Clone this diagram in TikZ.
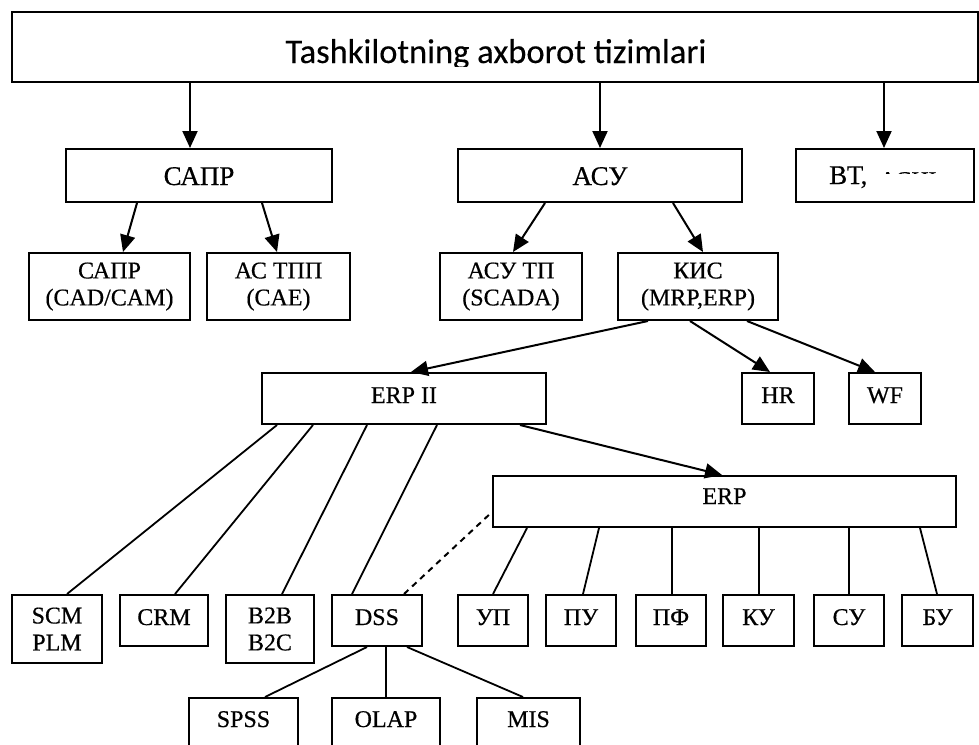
\documentclass[tikz,border=0pt]{standalone}
\usepackage{fontspec}
\setmainfont{Liberation Serif}[UprightFeatures={FakeBold=0.5}]
\newfontfamily\carlito{Carlito}[UprightFeatures={FakeBold=0.3}]
\usetikzlibrary{arrows.meta}
\begin{document}
\begin{tikzpicture}[x=1pt,y=-1pt,
  box/.style={draw, line width=2pt, inner sep=0pt, align=center, font=\fontsize{24}{27}\selectfont},
  big/.style={font=\fontsize{27}{30}\selectfont},
  th/.style={text height=#1, text depth=0pt},
  arr/.style={line width=2pt, -{Triangle[length=17pt,width=15pt]}},
  ln/.style={line width=1.8pt},
  dsh/.style={line width=2pt, dash pattern=on 6pt off 5pt}]
\useasboundingbox (0,0) rectangle (979,744);
\clip (0,0) rectangle (979,744);
% top
\node[box, minimum width=966pt, minimum height=70pt] (top) at (495,47) {};
\begin{scope}
  \clip (14,14) rectangle (976,66);
  \node[anchor=base, inner sep=0pt, font=\carlito\fontsize{34.5}{38}\selectfont] (toptext) at (496,63) {Tashkilotning axborot tizimlari};
\end{scope}
% row 2
\node[box, big, th=19pt, minimum width=266pt, minimum height=53pt] (sapr) at (199,175.5) {САПР};
\node[box, big, th=19pt, minimum width=284pt, minimum height=53pt] (asu) at (600,175.5) {АСУ};
\node[box, minimum width=178pt, minimum height=53pt] (vt) at (885,175.5) {};
\node[anchor=base west, inner sep=0pt, big] (vtt) at (829,184) {ВТ,};
\begin{scope}
  \clip (878,167.5) rectangle (936,173.5);
  \node[anchor=base west, inner sep=0pt, font=\fontsize{24}{27}\selectfont] (vtcut) at (879,188) {АСНИ};
\end{scope}
% row 3
\node[box, minimum width=161pt, minimum height=67pt] (cadcam) at (109.5,286.5) {САПР\\(CAD/CAM)};
\node[box, minimum width=143pt, minimum height=67pt] (astpp) at (278.5,286.5) {АС ТПП\\(CAE)};
\node[box, minimum width=142pt, minimum height=67pt] (asutp) at (511,286.5) {АСУ ТП\\(SCADA)};
\node[box, minimum width=160pt, minimum height=67pt] (kis) at (698,286.5) {КИС\\(MRP,ERP)};
% row 4
\node[box, th=9pt, minimum width=284pt, minimum height=51pt] (erp2) at (404,398.5) {ERP II};
\node[box, th=9pt, minimum width=72pt, minimum height=51pt] (hr) at (778,398.5) {HR};
\node[box, th=9pt, minimum width=72pt, minimum height=51pt] (wf) at (885,398.5) {WF};
% ERP
\node[box, th=5pt, minimum width=463pt, minimum height=51pt] (erp) at (724.5,501.5) {ERP};
% bottom row
\node[box, minimum width=90pt, minimum height=68pt] (scm) at (57,629) {SCM\\PLM};
\node[box, th=9pt, minimum width=88pt, minimum height=51pt] (crm) at (164,620.5) {CRM};
\node[box, minimum width=88pt, minimum height=68pt] (b2b) at (270,629) {B2B\\B2C};
\node[box, th=9pt, minimum width=90pt, minimum height=51pt] (dss) at (377,620.5) {DSS};
\node[box, th=9pt, minimum width=70pt, minimum height=51pt] (up) at (493,620.5) {УП};
\node[box, th=9pt, minimum width=70pt, minimum height=51pt] (pu) at (581,620.5) {ПУ};
\node[box, th=9pt, minimum width=70pt, minimum height=51pt] (pf) at (671,620.5) {ПФ};
\node[box, th=9pt, minimum width=71pt, minimum height=51pt] (ku) at (758.5,620.5) {КУ};
\node[box, th=9pt, minimum width=70pt, minimum height=51pt] (su) at (849,620.5) {СУ};
\node[box, th=9pt, minimum width=71pt, minimum height=51pt] (bu) at (937.5,620.5) {БУ};
% last row
\node[box, th=7pt, minimum width=109pt, minimum height=51pt] (spss) at (243.5,723.5) {SPSS};
\node[box, th=7pt, minimum width=108pt, minimum height=51pt] (olap) at (386,723.5) {OLAP};
\node[box, th=7pt, minimum width=103pt, minimum height=51pt] (mis) at (528.5,723.5) {MIS};
% arrows
\draw[arr] ([xshift=-305pt]top.south) -- ([xshift=-9pt]sapr.north);
\draw[arr] ([xshift=105pt]top.south) -- (asu.north);
\draw[arr] ([xshift=389pt]top.south) -- ([xshift=-1pt]vt.north);
\draw[arr] ([xshift=-62pt]sapr.south) -- ([xshift=13.5pt]cadcam.north);
\draw[arr] ([xshift=63pt]sapr.south) -- ([xshift=-1.5pt]astpp.north);
\draw[arr] ([xshift=-55pt]asu.south) -- ([xshift=2pt]asutp.north);
\draw[arr] ([xshift=73pt]asu.south) -- ([xshift=5pt]kis.north);
\draw[arr] ([xshift=-50pt]kis.south) -- ([xshift=7pt]erp2.north);
\draw[arr] ([xshift=-8pt]kis.south) -- ([xshift=-8pt]hr.north);
\draw[arr] ([xshift=49pt]kis.south) -- ([xshift=-10pt]wf.north);
\draw[arr] ([xshift=116pt]erp2.south) -- ([xshift=-2.5pt]erp.north);
% lines
\draw[ln] ([xshift=-127pt]erp2.south) -- ([xshift=10pt]scm.north);
\draw[ln] ([xshift=-91pt]erp2.south) -- ([xshift=11pt]crm.north);
\draw[ln] ([xshift=-37pt]erp2.south) -- ([xshift=12pt]b2b.north);
\draw[ln] ([xshift=33pt]erp2.south) -- ([xshift=-25pt]dss.north);
\draw[dsh] ([xshift=27pt]dss.north) -- ([yshift=-10.5pt]erp.west);
\draw[ln] ([xshift=-197.5pt]erp.south) -- (up.north);
\draw[ln] ([xshift=-125.5pt]erp.south) -- ([xshift=2pt]pu.north);
\draw[ln] ([xshift=-52.5pt]erp.south) -- ([xshift=1pt]pf.north);
\draw[ln] ([xshift=34.5pt]erp.south) -- ([xshift=0.5pt]ku.north);
\draw[ln] ([xshift=124.5pt]erp.south) -- (su.north);
\draw[ln] ([xshift=195.5pt]erp.south) -- ([xshift=-0.5pt]bu.north);
\draw[ln] ([xshift=-10pt]dss.south) -- ([xshift=21.5pt]spss.north);
\draw[ln] ([xshift=9pt]dss.south) -- (olap.north);
\draw[ln] ([xshift=30pt]dss.south) -- ([xshift=-5.5pt]mis.north);
\end{tikzpicture}
\end{document}
